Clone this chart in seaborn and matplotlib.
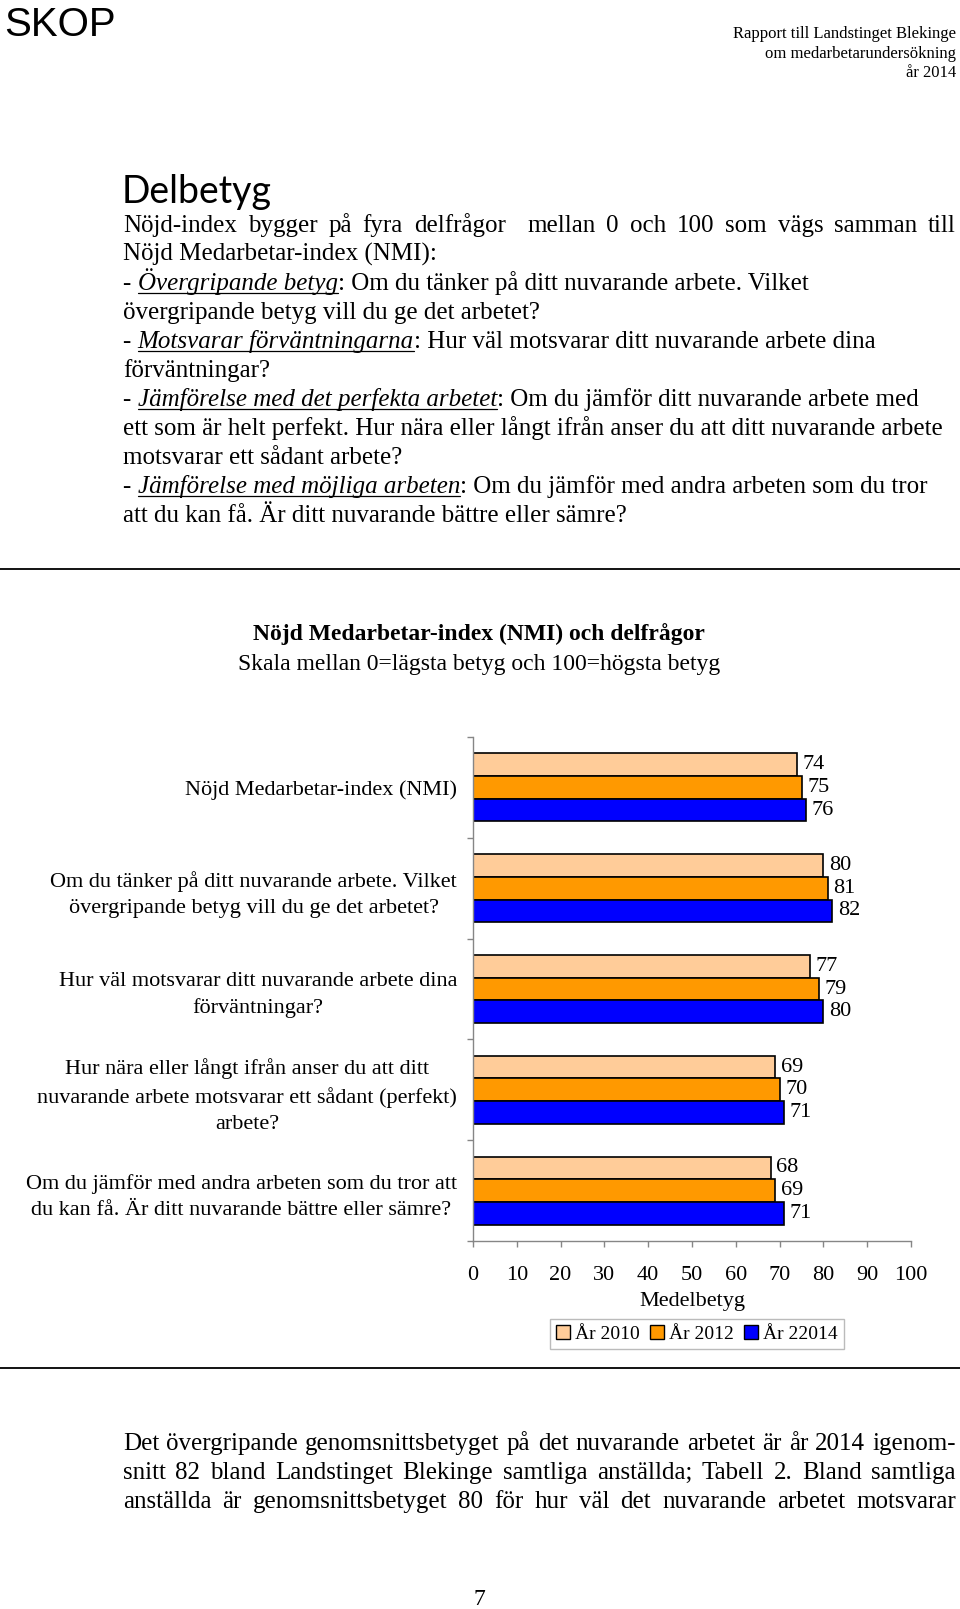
import matplotlib
matplotlib.use("Agg")
import matplotlib.pyplot as plt
import seaborn as sns
import pandas as pd
from matplotlib.lines import Line2D
from matplotlib.patches import Patch

# data till diagrammet
kategorier = [
    "Nöjd Medarbetar-index (NMI)",
    "Om du tänker på ditt nuvarande arbete. Vilket\növergripande betyg vill du ge det arbetet?",
    "Hur väl motsvarar ditt nuvarande arbete dina\nförväntningar?",
    "Hur nära eller långt ifrån anser du att ditt\nnuvarande arbete motsvarar ett sådant (perfekt)\narbete?",
    "Om du jämför med andra arbeten som du tror att\ndu kan få. Är ditt nuvarande bättre eller sämre?",
]
ar_2010 = [74, 80, 77, 69, 68]
ar_2012 = [75, 81, 79, 70, 69]
ar_2014 = [76, 82, 80, 71, 71]
serier = ["År 2010", "År 2012", "År 22014"]
x_ticks = list(range(0, 101, 10))

# brodtext pa sidan
rubrik_rader = [
    [("Nöjd-index bygger på fyra delfrågor  mellan 0 och 100 som vägs samman till", False, False)],
    [("Nöjd Medarbetar-index (NMI):", False, False)],
    [("- ", False, False), ("Övergripande betyg", True, True),
     (": Om du tänker på ditt nuvarande arbete. Vilket", False, False)],
    [("övergripande betyg vill du ge det arbetet?", False, False)],
    [("- ", False, False), ("Motsvarar förväntningarna", True, True),
     (": Hur väl motsvarar ditt nuvarande arbete dina", False, False)],
    [("förväntningar?", False, False)],
    [("- ", False, False), ("Jämförelse med det perfekta arbetet", True, True),
     (": Om du jämför ditt nuvarande arbete med", False, False)],
    [("ett som är helt perfekt. Hur nära eller långt ifrån anser du att ditt nuvarande arbete", False, False)],
    [("motsvarar ett sådant arbete?", False, False)],
    [("- ", False, False), ("Jämförelse med möjliga arbeten", True, True),
     (": Om du jämför med andra arbeten som du tror", False, False)],
    [("att du kan få. Är ditt nuvarande bättre eller sämre?", False, False)],
]
slut_rader = [
    "Det övergripande genomsnittsbetyget på det nuvarande arbetet är år 2014 igenom-",
    "snitt 82 bland Landstinget Blekinge samtliga anställda; Tabell 2. Bland samtliga",
    "anställda är genomsnittsbetyget 80 för hur väl det nuvarande arbetet motsvarar",
]

farger = ["#FFCC99", "#FF9900", "#0000FF"]
gra = "#868686"

W, H = 960, 1609
sns.set_style("white")
plt.rcParams["font.family"] = ["Liberation Serif", "DejaVu Serif"]
plt.rcParams["text.color"] = "black"

fig = plt.figure(figsize=(W / 100, H / 100), dpi=100)
fig.patch.set_facecolor("white")
rend = fig.canvas.get_renderer()


def fx(px):
    return px / W


def fy(py):
    return 1 - py / H


def bredd(txt, **kw):
    t = fig.text(0, 0, "|" + txt + "|", **kw)
    t2 = fig.text(0, 0, "||", **kw)
    w = t.get_window_extent(rend).width - t2.get_window_extent(rend).width
    t.remove()
    t2.remove()
    return w


def skriv_rad(x, y, delar, size, justera_till=None):
    if justera_till is not None:
        ord_lista = delar[0][0].split(" ")
        bredder = [bredd(o, fontsize=size) if o else 0 for o in ord_lista]
        gap = (justera_till - x - sum(bredder)) / (len(ord_lista) - 1)
        for o, b in zip(ord_lista, bredder):
            if o:
                fig.text(fx(x), fy(y), o, fontsize=size, va="baseline")
            x += b + gap
        return
    for txt, kursiv, under in delar:
        kw = dict(fontsize=size, style="italic" if kursiv else "normal")
        fig.text(fx(x), fy(y), txt, va="baseline", **kw)
        b = bredd(txt, **kw)
        if under:
            fig.add_artist(Line2D([fx(x), fx(x + b)], [fy(y + 3)] * 2,
                                  color="black", lw=0.9))
        x += b


# sidhuvud
fig.text(fx(4), fy(36), "SKOP", fontsize=29, family=["Liberation Sans"], va="baseline")
for i, t in enumerate(["Rapport till Landstinget Blekinge",
                       "om medarbetarundersökning", "år 2014"]):
    fig.text(fx(956), fy(38 + i * 19.5), t, fontsize=12, ha="right", va="baseline")

fig.text(fx(122), fy(203), "Delbetyg", fontsize=27, family=["Lato", "DejaVu Sans"], va="baseline")

for i, rad in enumerate(rubrik_rader):
    skriv_rad(123, 232 + i * 29, rad, 18, justera_till=956 if i == 0 else None)

fig.add_artist(Line2D([0, 1], [fy(569)] * 2, color="black", lw=1.3))
fig.add_artist(Line2D([0, 1], [fy(1368)] * 2, color="black", lw=1.3))

# diagramrubrik
fig.text(fx(479), fy(640), "Nöjd Medarbetar-index (NMI) och delfrågor",
         fontsize=17, weight="bold", ha="center", va="baseline")
fig.text(fx(479), fy(670), "Skala mellan 0=lägsta betyg och 100=högsta betyg",
         fontsize=17, ha="center", va="baseline")

# diagrammet
ax = fig.add_axes([fx(473), fy(1241), (911 - 473) / W, (1241 - 737) / H])
df = pd.DataFrame({
    "kategori": kategorier * 3,
    "ar": [s for s in serier for _ in kategorier],
    "varde": ar_2010 + ar_2012 + ar_2014,
})
sns.barplot(data=df, x="varde", y="kategori", hue="ar", orient="h",
            palette=farger, saturation=1, edgecolor="black", linewidth=1.2,
            width=0.675, errorbar=None, legend=False, ax=ax)
for c in ax.containers:
    ax.bar_label(c, padding=4, fontsize=16, color="black")

ax.set_xlim(0, 100)
ax.set_ylim(4.5, -0.5)
ax.set_xticks(x_ticks)
ax.set_yticks(range(len(kategorier)))
ax.set_yticklabels(kategorier)
for t in ax.get_yticklabels():
    t.set_multialignment("center")
    t.set_linespacing(1.5)
ax.set_yticks([i - 0.5 for i in range(len(kategorier) + 1)], minor=True)
ax.tick_params(axis="y", which="major", length=0, pad=11.5, labelsize=16, labelcolor="black")
ax.tick_params(axis="y", which="minor", left=True, length=4, width=1, color=gra, direction="out")
ax.tick_params(axis="x", bottom=True, length=4, width=1, color=gra, direction="out",
               pad=14, labelsize=16, labelcolor="black")
ax.set_xlabel("Medelbetyg", fontsize=16, labelpad=5, color="black")
ax.set_ylabel("")
for s in ["top", "right"]:
    ax.spines[s].set_visible(False)
for s in ["left", "bottom"]:
    ax.spines[s].set_color(gra)
    ax.spines[s].set_linewidth(1)
ax.grid(False)
ax.set_facecolor("white")

handtag = [Patch(facecolor=c, edgecolor="black", lw=1) for c in farger]
fig.legend(handtag, serier, loc="center", bbox_to_anchor=(fx(697), fy(1334)),
           ncol=3, frameon=True, fancybox=False, edgecolor="#AAAAAA",
           fontsize=14, handlelength=0.7, handleheight=0.7, handletextpad=0.3,
           columnspacing=0.5, borderpad=0.3)

# text under diagrammet
for i, t in enumerate(slut_rader):
    skriv_rad(123, 1450 + i * 29, [(t, False, False)], 18, justera_till=956)

fig.text(fx(479), fy(1605), "7", fontsize=17, ha="center", va="baseline")

fig.savefig("out.png", dpi=100)
